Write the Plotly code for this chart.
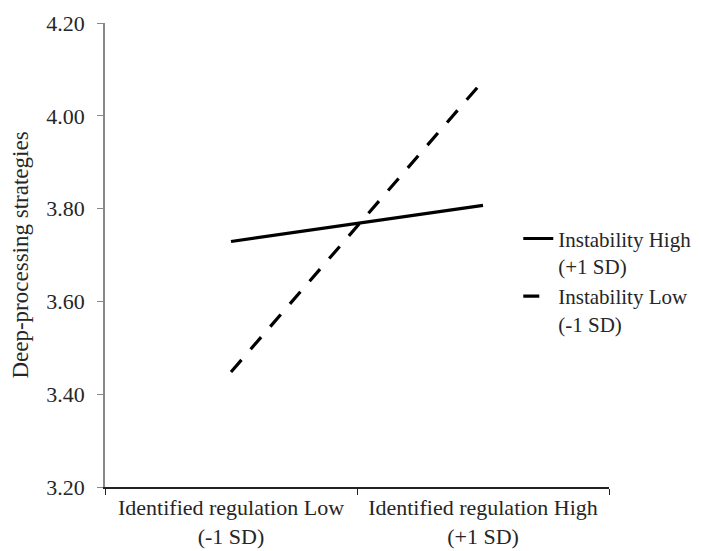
import plotly.graph_objects as go

categories = ["Identified regulation Low<br>(-1 SD)", "Identified regulation High<br>(+1 SD)"]
series_names = ["Instability High<br>(+1 SD)", "Instability Low<br>(-1 SD)"]
high_values = [3.729, 3.807]
low_values = [3.448, 4.075]
y_ticks = [3.20, 3.40, 3.60, 3.80, 4.00, 4.20]

FONT = "Liberation Serif, Times New Roman, serif"
TXT = "#262626"

fig = go.Figure()
fig.add_trace(go.Scatter(x=categories, y=high_values, mode="lines", name=series_names[0],
                         line=dict(color="black", width=3.2)))
fig.add_trace(go.Scatter(x=categories, y=low_values, mode="lines", name=series_names[1],
                         line=dict(color="black", width=3.2, dash="16px,14px")))

# page body adds ~8px offset; figure sized so the plot lands where the reference has it
fig.update_layout(
    width=694, height=543,
    margin=dict(l=97, r=93, t=15, b=64, autoexpand=False),
    paper_bgcolor="white", plot_bgcolor="white",
    font=dict(family=FONT, size=22, color=TXT),
    legend=dict(x=0.82, xanchor="left", y=0.579, yanchor="top", valign="top",
                bgcolor="rgba(0,0,0,0)", font=dict(family=FONT, size=21, color=TXT),
                tracegroupgap=2),
    showlegend=True,
)
fig.update_xaxes(
    range=[-0.5, 1.5], automargin=False, tickangle=0,
    showgrid=False, zeroline=False, showline=True, linecolor="#222", linewidth=1.5,
    ticks="outside", ticklen=6, tickcolor="#222", tickson="boundaries",
    tickfont=dict(family=FONT, size=22, color=TXT),
)
fig.update_yaxes(
    range=[3.20, 4.20], tickvals=y_ticks, tickformat=".2f", automargin=False,
    showgrid=False, zeroline=False, showline=True, linecolor="#888", linewidth=1.5,
    ticks="outside", ticklen=6, tickcolor="#888", ticklabelstandoff=8,
    tickfont=dict(family=FONT, size=22, color=TXT),
    title=dict(text="Deep-processing strategies", font=dict(family=FONT, size=23, color=TXT), standoff=14),
)
fig.write_html("out.html")
